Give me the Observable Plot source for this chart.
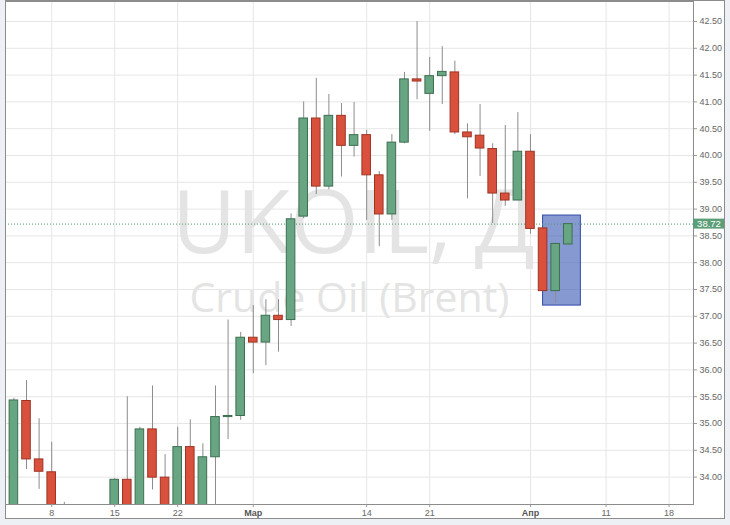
<!DOCTYPE html>
<html><head><meta charset="utf-8">
<script src="https://cdn.jsdelivr.net/npm/d3@7"></script>
<script src="https://cdn.jsdelivr.net/npm/@observablehq/plot@0.6"></script>
<style>
body{margin:0;background:#edf1f5;width:730px;height:525px;overflow:hidden;position:relative;font-family:"Liberation Sans",Arial,sans-serif}
#frame{position:absolute;left:5px;top:0;width:720px;height:519px;background:#fff;border:1px solid #8c8c8c;box-sizing:border-box}
#chart{position:absolute;left:0;top:0}
</style></head><body>
<div id="frame"></div><div id="chart"></div>
<script>
// Trading days (candle dates)
const dates = ["2016-02-03","2016-02-04","2016-02-05","2016-02-08","2016-02-09","2016-02-10","2016-02-11","2016-02-12",
"2016-02-15","2016-02-16","2016-02-17","2016-02-18","2016-02-19","2016-02-22","2016-02-23","2016-02-24","2016-02-25","2016-02-26",
"2016-02-29","2016-03-01","2016-03-02","2016-03-03","2016-03-04","2016-03-07","2016-03-08","2016-03-09","2016-03-10","2016-03-11",
"2016-03-14","2016-03-15","2016-03-16","2016-03-17","2016-03-18","2016-03-21","2016-03-22","2016-03-23","2016-03-24",
"2016-03-28","2016-03-29","2016-03-30","2016-03-31","2016-04-01","2016-04-04","2016-04-05","2016-04-06"];
const open  = [32.80,35.42,34.33,34.09,33.20,31.10,30.80,30.40, 33.20,33.95,33.10,34.89,33.99,33.10,34.56,33.30,34.37,35.12,
 35.14,36.60,36.51,37.01,36.93,38.86,40.69,39.42,40.74,40.18, 40.38,39.63,38.90,40.24,41.42,41.15,41.48,41.55,40.43,
 40.37,40.12,39.29,39.16,40.07,38.64,37.47,38.34];
const high  = [35.47,35.80,35.09,34.65,33.53,31.80,31.20,33.30, 33.97,35.50,34.93,35.70,34.42,34.93,35.07,34.62,35.70,36.93,
 36.70,37.20,37.31,37.31,38.91,41.00,41.44,41.14,40.97,40.99, 40.47,39.70,40.39,41.55,42.50,41.83,42.03,41.76,40.59,
 40.95,40.22,40.56,40.80,40.39,38.65,38.36,38.73];
const low   = [32.60,34.14,33.77,32.80,30.90,30.30,29.90,30.30, 32.90,32.50,32.90,33.76,32.90,32.95,33.10,33.10,33.30,34.70,
 35.06,35.93,36.08,36.33,36.81,38.82,39.27,39.36,39.60,39.97, 38.79,38.30,38.79,40.22,41.04,40.45,40.95,40.39,39.19,
 39.61,38.73,39.05,39.16,38.53,37.46,37.24,38.32];
const close = [35.43,34.33,34.10,33.10,31.30,30.80,30.10,33.10, 33.95,33.00,34.89,33.99,33.10,34.56,33.30,34.37,35.12,35.14,
 36.60,36.51,37.01,36.93,38.81,40.69,39.42,40.74,40.18,40.38, 39.63,38.90,40.24,41.42,41.38,41.48,41.56,40.43,40.34,
 40.13,39.29,39.16,40.07,38.63,37.47,38.35,38.72];
// Future trading days shown on the axis
const futureDays = ["2016-04-07","2016-04-08","2016-04-11","2016-04-12","2016-04-13","2016-04-14","2016-04-15","2016-04-18","2016-04-19"];
const days = dates.concat(futureDays);

const xTickDates  = ["2016-02-08","2016-02-15","2016-02-22","2016-03-01","2016-03-14","2016-03-21","2016-04-01","2016-04-11","2016-04-18"];
const xTickLabels = ["8","15","22","Мар","14","21","Апр","11","18"];
const monthTick   = [false,false,false,true,false,false,true,false,false];
const yTicks = [34,34.5,35,35.5,36,36.5,37,37.5,38,38.5,39,39.5,40,40.5,41,41.5,42,42.5];
const lastPrice = 38.72;
const boxStart = "2016-04-04", boxEnd = "2016-04-07", boxLow = 37.20, boxHigh = 38.88;
const wmTitle = "UKOIL, Д", wmSub = "Crude Oil (Brent)";

const idx = d => days.indexOf(d);
const candles = dates.map((d,i)=>({i: idx(d), o: open[i], h: high[i], l: low[i], c: close[i], up: close[i] >= open[i]}));
const ticksDay = xTickDates.map((d,k)=>({i: idx(d), label: xTickLabels[k], month: monthTick[k]}));
const W = 0.34;

const chart = Plot.plot({
  width: 730, height: 525,
  marginLeft: 5, marginRight: 37, marginTop: 1, marginBottom: 21,
  style: {background: "transparent", fontFamily: "'Liberation Sans', Arial, sans-serif"},
  x: {type: "linear", domain: [-0.667, 53.94]},
  y: {domain: [33.489, 42.873]},
  marks: [
    Plot.gridY(yTicks, {stroke: "#e6e6e6", strokeOpacity: 1}),
    Plot.gridX(ticksDay.map(t=>t.i), {stroke: "#e6e6e6", strokeOpacity: 1}),
    Plot.text([wmTitle], {frameAnchor: "middle", dx: 4, dy: -28, fontSize: 88, fontWeight: 400, fontFamily: "'Open Sans', sans-serif", fill: "#e4e4e4"}),
    Plot.text([wmSub], {frameAnchor: "middle", dx: 0, dy: 46, fontSize: 41, fontWeight: 400, fontFamily: "'Open Sans', sans-serif", fill: "#e4e4e4"}),
    Plot.rect([{a: idx(boxStart), b: idx(boxEnd), lo: boxLow, hi: boxHigh}], {x1: "a", x2: "b", y1: "lo", y2: "hi", fill: "#3c5ab4", fillOpacity: 0.62, stroke: "#2f4ca8", strokeWidth: 1}),
    Plot.ruleY([lastPrice], {stroke: "#4f9a6a", strokeDasharray: "1,2"}),
    Plot.ruleX(candles, {x: "i", y1: "l", y2: "h", stroke: "#8c8c8c", strokeWidth: 1, clip: true}),
    Plot.rect(candles, {x1: d=>d.i - W, x2: d=>d.i + W, y1: d=>Math.min(d.o,d.c), y2: d=>Math.max(d.o,d.c),
      fill: d=>d.up ? "#68a683" : "#d9513d", stroke: d=>d.up ? "#3d6e50" : "#9e3322", strokeWidth: 1, clip: true}),
    Plot.frame({stroke: "#8c8c8c"}),
    Plot.axisY(yTicks, {anchor: "right", tickSize: 3, tickPadding: 3, tickFormat: d=>d.toFixed(2), fontSize: 9, color: "#666", stroke: "#999"}),
    Plot.axisX(ticksDay.filter(t=>!t.month).map(t=>t.i), {tickSize: 3, tickPadding: 2, tickFormat: i=>xTickLabels[ticksDay.findIndex(t=>t.i===i)], fontSize: 9, color: "#666", stroke: "#999"}),
    Plot.axisX(ticksDay.filter(t=>t.month).map(t=>t.i), {tickSize: 3, tickPadding: 2, tickFormat: i=>xTickLabels[ticksDay.findIndex(t=>t.i===i)], fontSize: 9, fontWeight: "bold", color: "#555", stroke: "#999"})
  ]
});
document.getElementById("chart").appendChild(chart);

// price label on the right axis
const yPos = chart.scale("y").apply(lastPrice);
const svg = d3.select(chart);
const xR = 730 - 37;
svg.append("rect").attr("x", xR).attr("y", yPos - 5).attr("width", 31).attr("height", 10).attr("fill", "#5c9e78");
svg.append("text").attr("x", xR + 16).attr("y", yPos).attr("dy", "0.35em").attr("text-anchor", "middle")
  .attr("fill", "#fff").attr("font-size", 9.5).attr("font-family", "'Liberation Sans', Arial, sans-serif").text(lastPrice.toFixed(2));
</script></body></html>
